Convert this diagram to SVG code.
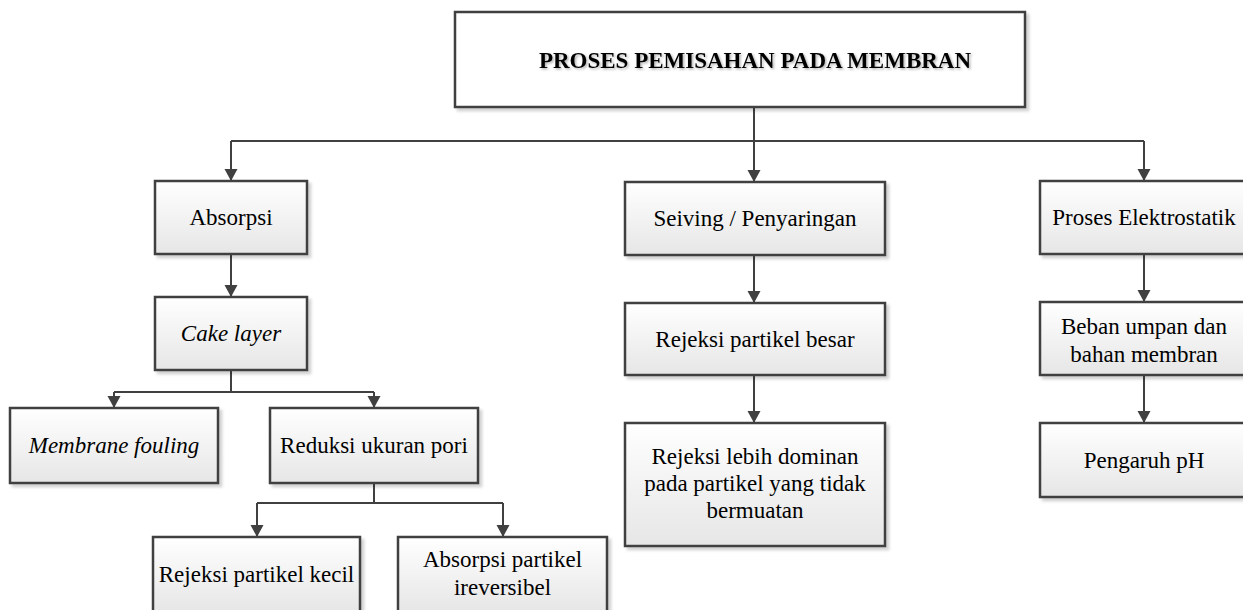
<svg xmlns="http://www.w3.org/2000/svg" width="1243" height="610" viewBox="0 0 1243 610" font-family="'Liberation Serif', 'Times New Roman', Tinos, 'DejaVu Serif', serif">
<defs>
<linearGradient id="g" x1="0" y1="0" x2="0" y2="1">
<stop offset="0" stop-color="#ffffff"/>
<stop offset="1" stop-color="#e6e6e6"/>
</linearGradient>
<filter id="sh" x="-5%" y="-5%" width="115%" height="120%">
<feDropShadow dx="3" dy="3" stdDeviation="1.5" flood-color="#000" flood-opacity="0.18"/>
</filter>
<filter id="tsh" x="-5%" y="-20%" width="110%" height="150%">
<feDropShadow dx="1.5" dy="1.5" stdDeviation="0.8" flood-color="#000" flood-opacity="0.3"/>
</filter>
<marker id="ah" markerUnits="userSpaceOnUse" markerWidth="14" markerHeight="14" refX="12" refY="6.5" orient="auto">
<path d="M0,0 L12,6.5 L0,13 Z" fill="#404040"/>
</marker>
</defs>
<style>
.box{fill:url(#g);stroke:#404040;stroke-width:2.5;filter:url(#sh)}
.tbox{fill:#fff;stroke:#404040;stroke-width:2.5;filter:url(#sh)}
text{font-family:'Liberation Serif','Times New Roman',serif;font-size:23px;fill:#000;text-anchor:middle}
.i{font-style:italic}
.b{font-weight:bold}
.c{fill:none;stroke:#404040;stroke-width:2}
.a{fill:none;stroke:#404040;stroke-width:2;marker-end:url(#ah)}
</style>
<g id="connectors">
<path class="c" d="M754,107 V141 M231,141 H1144"/>
<path class="a" d="M231,141 V181"/>
<path class="a" d="M754,141 V182"/>
<path class="a" d="M1144,141 V181"/>
<path class="a" d="M231,254 V297"/>
<path class="c" d="M231,370 V392 M114,392 H374"/>
<path class="a" d="M114,392 V408"/>
<path class="a" d="M374,392 V408"/>
<path class="c" d="M374,483 V503 M257,503 H503"/>
<path class="a" d="M257,503 V537"/>
<path class="a" d="M503,503 V537"/>
<path class="a" d="M754,255 V303"/>
<path class="a" d="M754,375 V423"/>
<path class="a" d="M1144,254 V302"/>
<path class="a" d="M1144,375 V423"/>
</g>
<g id="title">
<rect class="tbox" x="455" y="12" width="570" height="95"/>
<text class="b" x="755" y="68" filter="url(#tsh)">PROSES PEMISAHAN PADA MEMBRAN</text>
</g>
<g id="absorpsi">
<rect class="box" x="155" y="181" width="152" height="73"/>
<text x="231" y="225">Absorpsi</text>
</g>
<g id="cake">
<rect class="box" x="155" y="297" width="152" height="73"/>
<text class="i" x="231" y="341">Cake layer</text>
</g>
<g id="fouling">
<rect class="box" x="10" y="408" width="208" height="75"/>
<text class="i" x="114" y="453">Membrane fouling</text>
</g>
<g id="reduksi">
<rect class="box" x="270" y="408" width="208" height="75"/>
<text x="374" y="453">Reduksi ukuran pori</text>
</g>
<g id="kecil">
<rect class="box" x="153" y="537" width="207" height="75"/>
<text x="256.5" y="582">Rejeksi partikel kecil</text>
</g>
<g id="ireversibel">
<rect class="box" x="398" y="537" width="209" height="75"/>
<text x="502.5" y="567">Absorpsi partikel</text>
<text x="502.5" y="595">ireversibel</text>
</g>
<g id="seiving">
<rect class="box" x="625" y="182" width="260" height="73"/>
<text x="755" y="226">Seiving / Penyaringan</text>
</g>
<g id="besar">
<rect class="box" x="625" y="303" width="260" height="72"/>
<text x="755" y="347">Rejeksi partikel besar</text>
</g>
<g id="dominan">
<rect class="box" x="625" y="423" width="260" height="123"/>
<text x="755" y="464">Rejeksi lebih dominan</text>
<text x="755" y="491">pada partikel yang tidak</text>
<text x="755" y="518">bermuatan</text>
</g>
<g id="elektrostatik">
<rect class="box" x="1040" y="181" width="208" height="73"/>
<text x="1144" y="225">Proses Elektrostatik</text>
</g>
<g id="beban">
<rect class="box" x="1040" y="302" width="208" height="73"/>
<text x="1144" y="334">Beban umpan dan</text>
<text x="1144" y="362">bahan membran</text>
</g>
<g id="ph">
<rect class="box" x="1040" y="423" width="208" height="74"/>
<text x="1144" y="468">Pengaruh pH</text>
</g>
</svg>
